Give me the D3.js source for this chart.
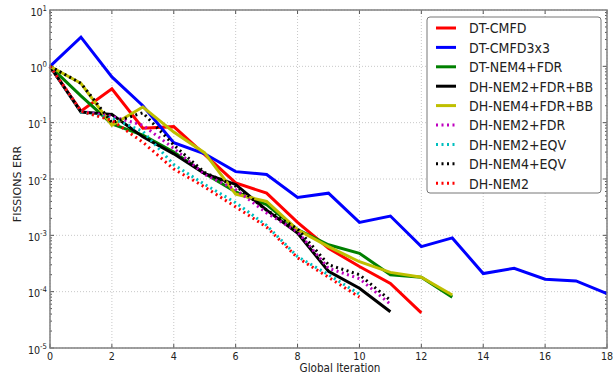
<!DOCTYPE html>
<html>
<head>
<meta charset="utf-8">
<script src="https://cdn.jsdelivr.net/npm/d3@7"></script>
<style>
  body { margin: 0; background: #fff; }
  text { font-family: "DejaVu Sans", sans-serif; fill: #222; }
</style>
</head>
<body>
<div id="chart"></div>
<script>
// iteration values
const dtCmfd      = [1, 0.16, 0.40, 0.08, 0.085, 0.027, 0.0085, 0.0056, 0.0017, 0.00059, 0.00028, 0.00014, 0.000042];
const dtCmfd3x3   = [1, 3.3, 0.65, 0.2, 0.044, 0.028, 0.0135, 0.012, 0.0047, 0.0056, 0.0017, 0.0022, 0.00063, 0.0009, 0.00021, 0.00026, 0.000166, 0.000155, 0.000092];
const dtNem4Fdr   = [1, 0.3, 0.095, 0.06, 0.03, 0.0125, 0.0059, 0.0035, 0.00126, 0.00068, 0.00048, 0.0002, 0.00018, 0.00008];
const dhNem2FdrBB = [1, 0.155, 0.14, 0.056, 0.028, 0.0125, 0.008, 0.0028, 0.0011, 0.00023, 0.000115, 0.000044];
const dhNem4FdrBB = [1, 0.5, 0.09, 0.19, 0.068, 0.029, 0.0054, 0.004, 0.00125, 0.00063, 0.00034, 0.00022, 0.00018, 0.000087];
const dhNem2Fdr   = [1, 0.16, 0.13, 0.09, 0.035, 0.012, 0.0065, 0.0025, 0.00115, 0.00026, 0.00017, 0.00006];
const dhNem2Eqv   = [1, 0.155, 0.12, 0.07, 0.018, 0.008, 0.0038, 0.0015, 0.00042, 0.0002, 0.00009];
const dhNem4Eqv   = [1, 0.5, 0.1, 0.15, 0.04, 0.013, 0.0075, 0.0028, 0.0013, 0.0003, 0.0002, 0.00007];
const dhNem2      = [1, 0.16, 0.11, 0.045, 0.015, 0.0072, 0.0032, 0.0014, 0.0004, 0.00018, 0.00008];

const seriesNames  = ['DT-CMFD', 'DT-CMFD3x3', 'DT-NEM4+FDR', 'DH-NEM2+FDR+BB', 'DH-NEM4+FDR+BB',
                      'DH-NEM2+FDR', 'DH-NEM2+EQV', 'DH-NEM4+EQV', 'DH-NEM2'];
const seriesValues = [dtCmfd, dtCmfd3x3, dtNem4Fdr, dhNem2FdrBB, dhNem4FdrBB,
                      dhNem2Fdr, dhNem2Eqv, dhNem4Eqv, dhNem2];
const seriesColors = ['#ff0000', '#0000ff', '#008000', '#000000', '#bfbf00',
                      '#bf00bf', '#00bfbf', '#000000', '#ff0000'];
const seriesDotted = [false, false, false, false, false, true, true, true, true];

const xTicks = [0, 2, 4, 6, 8, 10, 12, 14, 16, 18];
const yExps  = [1, 0, -1, -2, -3, -4, -5];

const W = 613, H = 376;
const m = { left: 50, top: 10, right: 6, bottom: 28 };
const iw = W - m.left - m.right, ih = H - m.top - m.bottom;
const squeeze = 0.87;   // the picture is a little narrower than tall

const svg = d3.select('#chart').append('svg')
    .attr('width', W).attr('height', H);

const x = d3.scaleLinear().domain([0, 18]).range([m.left, m.left + iw]);
const y = d3.scaleLog().domain([1e-5, 10]).range([m.top + ih, m.top]);

// text squeezed horizontally
function label(g, px, py, size, anchor) {
    return g.append('text')
        .attr('transform', `translate(${px},${py}) scale(${squeeze},1)`)
        .attr('text-anchor', anchor)
        .attr('font-size', size);
}

// grid
const grid = svg.append('g');
xTicks.forEach(t => {
    grid.append('line')
        .attr('x1', x(t)).attr('x2', x(t)).attr('y1', m.top).attr('y2', m.top + ih)
        .attr('stroke', '#c8c8c8').attr('stroke-width', 1).attr('stroke-dasharray', '1,2');
});
yExps.forEach(e => {
    grid.append('line')
        .attr('x1', m.left).attr('x2', m.left + iw).attr('y1', y(Math.pow(10, e))).attr('y2', y(Math.pow(10, e)))
        .attr('stroke', '#c8c8c8').attr('stroke-width', 1).attr('stroke-dasharray', '1,2');
});

// ticks inside the frame
const tk = svg.append('g').attr('stroke', '#555').attr('stroke-width', 1);
xTicks.forEach(t => {
    tk.append('line').attr('x1', x(t)).attr('x2', x(t)).attr('y1', m.top + ih).attr('y2', m.top + ih - 4);
    tk.append('line').attr('x1', x(t)).attr('x2', x(t)).attr('y1', m.top).attr('y2', m.top + 4);
});
for (let e = -5; e <= 0; e++) {
    for (let k = 1; k <= 9; k++) {
        const v = k * Math.pow(10, e);
        const len = k === 1 ? 4 : 2;
        tk.append('line').attr('x1', m.left).attr('x2', m.left + len).attr('y1', y(v)).attr('y2', y(v));
        tk.append('line').attr('x1', m.left + iw).attr('x2', m.left + iw - len).attr('y1', y(v)).attr('y2', y(v));
    }
}

// lines
const line = d3.line()
    .x((d, i) => x(i))
    .y(d => y(d));

const plot = svg.append('g');
seriesValues.forEach((vals, i) => {
    plot.append('path')
        .datum(vals)
        .attr('d', line)
        .attr('fill', 'none')
        .attr('stroke', seriesColors[i])
        .attr('stroke-width', 3)
        .attr('stroke-dasharray', seriesDotted[i] ? '2,3.5' : null);
});

// frame
svg.append('rect')
    .attr('x', m.left).attr('y', m.top).attr('width', iw).attr('height', ih)
    .attr('fill', 'none').attr('stroke', '#808080').attr('stroke-width', 1.5);

// tick labels
xTicks.forEach(t => {
    label(svg, x(t), 360, 11, 'middle').text(t);
});
yExps.forEach(e => {
    const tx = label(svg, 47, y(Math.pow(10, e)) + 5.5, 11, 'end');
    tx.append('tspan').text('10');
    tx.append('tspan').attr('dy', -5).attr('font-size', 8).text(e);
});

// axis titles
label(svg, 340, 372, 12, 'middle').text('Global Iteration');
svg.append('text')
    .attr('transform', `translate(21,${m.top + ih / 2 + 5}) rotate(-90)`)
    .attr('text-anchor', 'middle').attr('font-size', 11)
    .text('FISSIONS ERR');

// legend
const lg = svg.append('g');
lg.append('rect')
    .attr('x', 427).attr('y', 17).attr('width', 174).attr('height', 176)
    .attr('rx', 3).attr('fill', '#fff').attr('stroke', '#777').attr('stroke-width', 1);
seriesNames.forEach((name, i) => {
    const cy = 28 + i * 19.4;
    lg.append('line')
        .attr('x1', 436).attr('x2', 456).attr('y1', cy).attr('y2', cy)
        .attr('stroke', seriesColors[i]).attr('stroke-width', 3)
        .attr('stroke-dasharray', seriesDotted[i] ? '2,3.5' : null);
    label(lg, 469, cy + 5.3, 14.5, 'start').text(name);
});
</script>
</body>
</html>
